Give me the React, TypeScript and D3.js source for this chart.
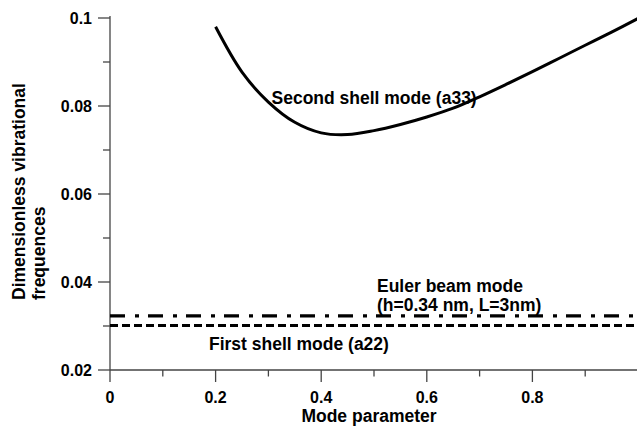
import React from "react";
import * as d3 from "d3";

const modeParam = [0.2, 0.25, 0.3, 0.35, 0.4, 0.45, 0.5, 0.55, 0.6, 0.65, 0.7, 0.75, 0.8, 0.85, 0.9, 0.95, 1.0];
const secondShell = [0.098, 0.0877, 0.0809, 0.0763, 0.0739, 0.0735, 0.0744, 0.0758, 0.0775, 0.0795, 0.0821, 0.0849, 0.0878, 0.0908, 0.0938, 0.0968, 0.0999];
const eulerBeam = 0.0323;
const firstShell = 0.0301;
const xTicks = [0, 0.2, 0.4, 0.6, 0.8];
const xMinor = [0.1, 0.3, 0.5, 0.7, 0.9];
const yTicks = [0.02, 0.04, 0.06, 0.08, 0.1];
const yMinor = [0.03, 0.05, 0.07, 0.09];

const W = 637;
const H = 426;
const FONT = "'Liberation Sans', Arial, sans-serif";

export default function App() {
  const x = d3.scaleLinear().domain([0, 1]).range([110, 638]);
  const y = d3.scaleLinear().domain([0.02, 0.1]).range([370, 18]);
  const line = d3
    .line<number>()
    .x((_, i) => x(modeParam[i]))
    .y((d) => y(d))
    .curve(d3.curveCatmullRom.alpha(0.5));
  const axisColor = "#444";
  return (
    <svg width={W} height={H} style={{ position: "absolute", left: 0, top: 0, background: "#fff" }} fontFamily={FONT} fontWeight="bold">
      {/* axes */}
      <line x1={x(0)} x2={W} y1={y(0.02)} y2={y(0.02)} stroke={axisColor} strokeWidth={1.3} />
      <line x1={x(0)} x2={x(0)} y1={y(0.1) - 2} y2={y(0.02)} stroke={axisColor} strokeWidth={1.3} />
      {xTicks.map((t) => (
        <g key={"xt" + t}>
          <line x1={x(t)} x2={x(t)} y1={y(0.02)} y2={y(0.02) + 12} stroke={axisColor} strokeWidth={1.3} />
          <text x={x(t)} y={403} textAnchor="middle" fontSize={16} fill="#000">
            {String(t)}
          </text>
        </g>
      ))}
      {xMinor.map((t) => (
        <line key={"xm" + t} x1={x(t)} x2={x(t)} y1={y(0.02)} y2={y(0.02) + 6.5} stroke={axisColor} strokeWidth={1.3} />
      ))}
      {yTicks.map((t) => (
        <g key={"yt" + t}>
          <line x1={x(0) - 12} x2={x(0)} y1={y(t)} y2={y(t)} stroke={axisColor} strokeWidth={1.3} />
          <text x={92} y={y(t) + 6} textAnchor="end" fontSize={16} fill="#000">
            {String(t)}
          </text>
        </g>
      ))}
      {yMinor.map((t) => (
        <line key={"ym" + t} x1={x(0) - 7} x2={x(0)} y1={y(t)} y2={y(t)} stroke={axisColor} strokeWidth={1.3} />
      ))}
      {/* axis titles */}
      <text x={369} y={422} textAnchor="middle" fontSize={17.5} fill="#000">
        Mode parameter
      </text>
      <g transform="translate(25,300) rotate(-90)">
        <text x={0} y={0} fontSize={17.5} fill="#000">Dimensionless vibrational</text>
        <text x={0} y={19.5} fontSize={17.5} fill="#000">frequences</text>
      </g>
      {/* series */}
      <path d={line(secondShell) || ""} fill="none" stroke="#000" strokeWidth={3} />
      <line x1={x(0)} x2={W} y1={y(eulerBeam)} y2={y(eulerBeam)} stroke="#000" strokeWidth={3.2} strokeDasharray="15 10 4 9" />
      <line x1={x(0)} x2={W} y1={y(firstShell)} y2={y(firstShell)} stroke="#000" strokeWidth={3} strokeDasharray="8 4" />
      {/* annotations */}
      <text x={271.5} y={104} fontSize={17.5} fill="#000">Second shell mode (a33)</text>
      <text x={377} y={292} fontSize={17.5} fill="#000">Euler beam mode</text>
      <text x={377} y={311} fontSize={17.5} fill="#000">(h=0.34 nm, L=3nm)</text>
      <text x={209} y={350} fontSize={17.5} fill="#000">First shell mode (a22)</text>
    </svg>
  );
}
